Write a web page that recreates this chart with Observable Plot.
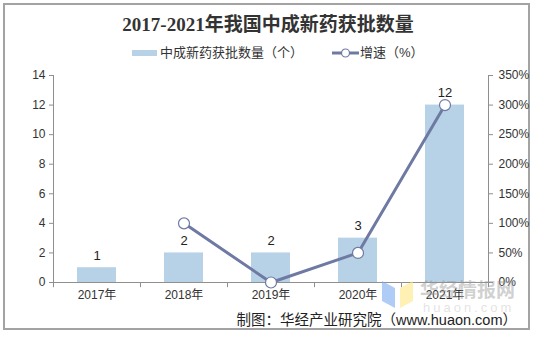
<!DOCTYPE html>
<html>
<head>
<meta charset="utf-8">
<script src="https://cdn.jsdelivr.net/npm/d3@7"></script>
<script src="https://cdn.jsdelivr.net/npm/@observablehq/plot@0.6"></script>
<style>
  body { margin: 0; background: #fff; }
  #wrap { position: relative; width: 536px; height: 337px; overflow: hidden; font-family: 'Liberation Sans', 'Noto Sans CJK SC', sans-serif; color: #333; }
  #frame { position: absolute; left: 3px; top: 3px; width: 527px; height: 327px; border: 2px solid #a3a3a3; box-sizing: border-box; }
  #title { position: absolute; left: 0; width: 536px; top: 12px; text-align: center; font-family: 'Liberation Serif', 'Noto Sans CJK SC', serif; font-weight: bold; font-size: 19px; color: #333; line-height: 26px; }
  .leg { position: absolute; top: 43px; font-size: 13px; line-height: 18px; color: #333; white-space: nowrap; }
  #chart { position: absolute; left: 0; top: 60px; }
  #caption { position: absolute; right: 19px; top: 310px; font-size: 14.5px; line-height: 20px; color: #222; white-space: nowrap; }
  #logo { position: absolute; left: 382px; top: 281px; }
  #wm { position: absolute; left: 420px; top: 280px; font-size: 19px; font-weight: bold; color: rgba(150,150,150,0.45); line-height: 22px; }
  #wm2 { position: absolute; left: 423px; top: 301px; font-size: 13px; letter-spacing: 3px; color: rgba(170,170,170,0.35); line-height: 14px; }
</style>
</head>
<body>
<div id="wrap">
  <div id="frame"></div>
  <div id="title">2017-2021年我国中成新药获批数量</div>
  <div class="leg" style="left:132px;"><span style="display:inline-block;width:25px;height:6px;background:#b7d2e6;vertical-align:middle;margin-right:3px;"></span><span style="vertical-align:middle;">中成新药获批数量（个）</span></div>
  <div class="leg" style="left:332px;"><svg width="27" height="12" style="vertical-align:middle;margin-right:1px;"><line x1="0" y1="6" x2="27" y2="6" stroke="#6f7aa3" stroke-width="3"/><circle cx="13.5" cy="6" r="4" fill="#fff" stroke="#6f7aa3" stroke-width="1.2"/></svg><span style="vertical-align:middle;">增速（%）</span></div>
  <div id="chart"></div>
  <svg id="logo" width="32" height="27"><polygon points="0,0 13,7 13,27 0,20" fill="rgba(120,170,240,0.6)"/><polygon points="31,0 18,7 18,27 31,20" fill="rgba(255,230,130,0.6)"/></svg>
  <div id="wm">华经情报网</div>
  <div id="wm2">huaon.com</div>
  <div id="caption">制图：华经产业研究院（www.huaon.com）</div>
</div>
<script>
const years = ["2017年", "2018年", "2019年", "2020年", "2021年"];
const counts = [1, 2, 2, 3, 12];
const growthYears = ["2018年", "2019年", "2020年", "2021年"];
const growth = [100, 0, 50, 300];
const leftTicks = [0, 2, 4, 6, 8, 10, 12, 14];
const rightTickLabels = ["0%", "50%", "100%", "150%", "200%", "250%", "300%", "350%"];

const bars = years.map((y, i) => ({year: y, count: counts[i]}));
const rate = growthYears.map((y, i) => ({year: y, growth: growth[i]}));
const ratio = 350 / 14; // right axis maps onto left axis

const step = 87;
const chart = Plot.plot({
  width: 536,
  height: 245,
  marginTop: 15,
  marginBottom: 23,
  marginLeft: 53,
  marginRight: 48,
  x: {domain: years, paddingInner: 0.55, paddingOuter: 0.275, label: null},
  y: {domain: [0, 14], label: null},
  style: {fontFamily: "'Liberation Sans', 'Noto Sans CJK SC', sans-serif", fontSize: "12px", color: "#333", background: "transparent", overflow: "visible"},
  marks: [
    Plot.barY(bars, {x: "year", y: "count", fill: "#b7d2e6"}),
    Plot.ruleY([0], {stroke: "#8f8f8f", strokeWidth: 1}),
    Plot.ruleX([years[0]], {dx: -step / 2, y1: 0, y2: 14, stroke: "#8f8f8f"}),
    Plot.ruleX([years[years.length - 1]], {dx: step / 2, y1: 0, y2: 14, stroke: "#8f8f8f"}),
    Plot.ruleX(years, {dx: -step / 2, y1: 0, y2: -0.35, stroke: "#8f8f8f"}),
    Plot.ruleX([years[years.length - 1]], {dx: step / 2, y1: 0, y2: -0.35, stroke: "#8f8f8f"}),
    Plot.axisY({anchor: "left", ticks: leftTicks, tickSize: 4, tickPadding: 4, label: null, stroke: "#8f8f8f", fill: "#333"}),
    Plot.axisY({anchor: "right", ticks: leftTicks, tickSize: 4, tickPadding: 6, label: null, stroke: "#8f8f8f", fill: "#333", tickFormat: (d, i) => rightTickLabels[leftTicks.indexOf(d)]}),
    Plot.axisX({tickSize: 0, tickPadding: 8, label: null, fill: "#333"}),
    Plot.line(rate, {x: "year", y: d => d.growth / ratio, stroke: "#6f7aa3", strokeWidth: 3}),
    Plot.dot(rate, {x: "year", y: d => d.growth / ratio, r: 5.5, fill: "#fff", stroke: "#6f7aa3", strokeWidth: 1.2}),
    Plot.text(bars, {x: "year", y: "count", text: d => String(d.count), dy: -12, fontSize: 13, fill: "#222"})
  ]
});
document.getElementById("chart").appendChild(chart);
</script>
</body>
</html>
